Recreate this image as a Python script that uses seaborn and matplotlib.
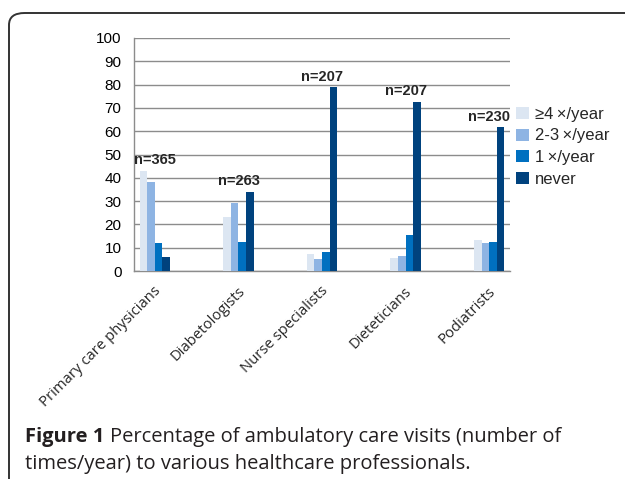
import numpy as np
import pandas as pd
import matplotlib
matplotlib.use("Agg")
import matplotlib.pyplot as plt
import matplotlib.transforms as mtransforms
from matplotlib.patches import FancyBboxPatch
import seaborn as sns

# data
professions = ["Primary care physicians", "Diabetologists", "Nurse specialists",
               "Dieteticians", "Podiatrists"]
freq_levels = ["\u22654\u2009\u00d7/year", "2-3\u2009\u00d7/year", "1\u2009\u00d7/year", "never"]
pct_4plus = [43.0, 23.2, 7.5, 5.7, 13.2]
pct_2to3 = [38.0, 29.0, 5.2, 6.3, 12.1]
pct_once = [11.9, 12.6, 8.0, 15.4, 12.6]
pct_never = [6.2, 34.0, 78.8, 72.6, 61.8]
n_resp = [365, 263, 207, 207, 230]
y_ticks = list(range(0, 101, 10))

colors = ["#dce6f2", "#8eb4e3", "#0070c0", "#00427e"]
grid_col = "#8c8c8c"
cap_col = "#231f20"

rows = []
for series, level in zip([pct_4plus, pct_2to3, pct_once, pct_never], freq_levels):
    for prof, v in zip(professions, series):
        rows.append({"profession": prof, "frequency": level, "pct": v})
df = pd.DataFrame(rows)

sns.set_style("white")
plt.rcParams["font.family"] = ["Liberation Sans", "DejaVu Sans"]

fig = plt.figure(figsize=(6.25, 4.79), dpi=100)
ax = fig.add_axes([0.2144, 0.4342, 0.6016, 0.4865])

sns.barplot(data=df, x="profession", y="pct", hue="frequency", order=professions,
            hue_order=freq_levels, palette=colors, saturation=1, width=0.363,
            gap=0, linewidth=0, ax=ax, zorder=3)

ax.set_ylim(0, 100)
ax.set_xlim(-0.25, 4.25)
ax.set_yticks(y_ticks)
ax.set_xlabel("")
ax.set_ylabel("")
ax.yaxis.grid(True, color=grid_col, lw=1, zorder=0)
for s in ["top", "right"]:
    ax.spines[s].set_visible(False)
for s in ["left", "bottom"]:
    ax.spines[s].set_color(grid_col)
    ax.spines[s].set_linewidth(1)
ax.tick_params(axis="y", length=5, color=grid_col, labelsize=11, pad=4, labelcolor="black")

# boundary tick marks between category slots
ax.set_xticks(np.arange(-0.25, 4.3, 0.5), minor=True)
ax.tick_params(axis="x", which="minor", length=5, color=grid_col, direction="out")
ax.tick_params(axis="x", which="major", length=0, pad=13)
ax.set_xticks(range(len(professions)))
ax.set_xticklabels(professions, rotation=45, ha="right", va="center",
                   rotation_mode="anchor", fontsize=10.7, family="Open Sans")
shift = mtransforms.ScaledTranslation(3 / 72, 0, fig.dpi_scale_trans)
for lbl in ax.get_xticklabels():
    lbl.set_transform(lbl.get_transform() + shift)

# sample sizes above each group
tops = np.max([pct_4plus, pct_2to3, pct_once, pct_never], axis=0)
for i, (n, t) in enumerate(zip(n_resp, tops)):
    ax.text(i, t + 1.5, f"n={n}", ha="center", va="bottom",
            fontsize=10.5, fontweight="bold")

ax.legend(loc="upper left", bbox_to_anchor=(0.826, 0.777), bbox_transform=fig.transFigure,
          frameon=False, fontsize=12, handlelength=0.75, handleheight=0.75,
          handletextpad=0.35, labelspacing=0.4, borderpad=0, borderaxespad=0)

# caption
t1 = fig.text(0.04, 0.088, "Figure 1", fontsize=14.5, fontweight="bold",
              family="Open Sans", color=cap_col, va="center")
fig.text(0.04, 0.088, "", fontsize=14.5)
ax.annotate("Percentage of ambulatory care visits (number of", xy=(1, 0.5),
            xycoords=t1, xytext=(4, 0), textcoords="offset points",
            fontsize=14.5, family="Open Sans", color=cap_col, va="center",
            annotation_clip=False)
fig.text(0.04, 0.031, "times/year) to various healthcare professionals.",
         fontsize=14.5, family="Open Sans", color=cap_col, va="center")

# rounded frame around the figure
frame = FancyBboxPatch((9 / 625, -0.1), 1.1, 1.1 - 13 / 479,
                       boxstyle="round,pad=0,rounding_size=0.025",
                       transform=fig.transFigure, fill=False, ec="#333333", lw=1.4)
fig.patches.append(frame)

fig.savefig("out.png", dpi=100)
